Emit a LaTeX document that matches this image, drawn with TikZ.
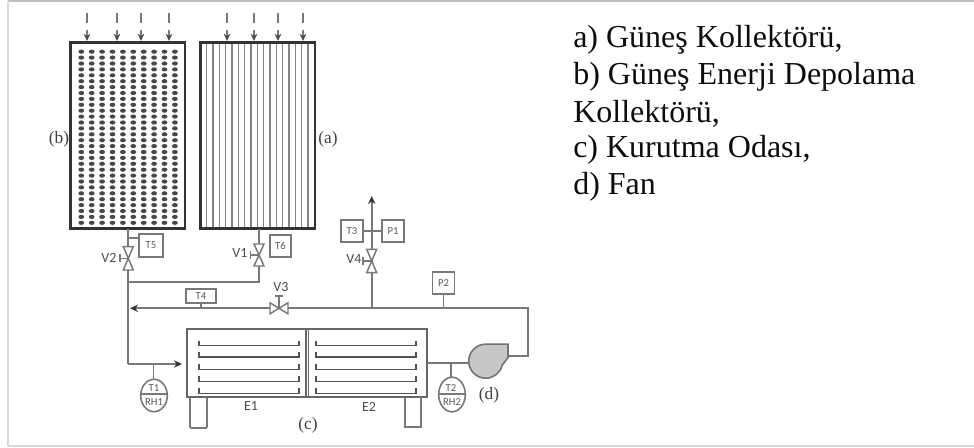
\documentclass[tikz,border=0pt]{standalone}
\usepackage{fontspec}
\setmainfont{Liberation Serif}
\newfontfamily\lblfont{Carlito}
\usetikzlibrary{arrows.meta}
\definecolor{pipe}{gray}{0.47}
\definecolor{panel}{gray}{0.2}
\tikzset{
  pipeline/.style={draw=pipe,line width=1.4pt},
  arrowline/.style={pipeline,-{Stealth[length=6pt,width=5.5pt,color=black!80]}},
  panelbox/.style={draw=panel,line width=2pt,fill=white},
  tagbox/.style={draw=pipe,line width=1.2pt,fill=white,inner sep=0pt,font=\lblfont\fontsize{8}{9}\selectfont,text=black!65},
  taglabel/.style={inner sep=0pt,font=\lblfont\fontsize{8}{9}\selectfont,text=black!65},
  vlabel/.style={inner sep=0pt,font=\lblfont\fontsize{10.5}{11}\selectfont,text=black!70},
  seriflabel/.style={inner sep=0pt,font=\fontsize{13}{15}\selectfont,text=black!75},
  legend/.style={inner sep=0pt,anchor=west,font=\fontsize{24}{28}\selectfont,text=black!95},
  sensor/.style={draw=pipe,line width=1.2pt,fill=white},
  valvetri/.style={draw=pipe,line width=1.1pt,fill=white},
  shelf/.style={draw=black!68,line width=1.2pt},
}
\begin{document}
\begin{tikzpicture}[x=0.75pt,y=-0.75pt]
\useasboundingbox (0,0) rectangle (974,448);
\draw[black!25,line width=1pt] (8,1) -- (974,1);
\draw[black!15,line width=1pt] (8,1) -- (8,446);
\draw[black!15,line width=1pt] (8,446) -- (974,446);

% panels
\draw[panelbox] (70.7,42.7) rectangle (185,228.7);
\draw[panelbox] (200.7,42.7) rectangle (315,228.7);
\foreach \c in {0,...,9}{
  \foreach \r in {0,...,29}{
    \fill[black!72] ({81.3+10.4*\c},{51.7+5.9*\r}) ellipse (2.9 and 2.1);
  }
}
\foreach \c in {0,...,16}{
  \draw[black!48,line width=1.1pt] ({206.7+6.33*\c},43.5) -- ({206.7+6.33*\c},228);
}
\draw[panel,line width=2pt] (70.7,42.7) rectangle (185,228.7);
\draw[panel,line width=2pt] (200.7,42.7) rectangle (315,228.7);
% sun arrows
\foreach \x in {87,117,141,169,227,254,278,303}{
  \draw[pipe,line width=1.3pt] (\x,13) -- (\x,23);
  \draw[pipe,line width=1.1pt,-{Stealth[length=5.5pt,width=5pt,color=black!70]}] (\x,30) -- (\x,41);
}
\node[seriflabel] (lb) at (59,139) {(b)};
\node[seriflabel] (la) at (328,139) {(a)};

% chamber
\draw[draw=black!60,line width=1.3pt,fill=white] (187,329) rectangle (426.7,397);
\draw[draw=black!60,line width=2pt] (187,397) -- (426.7,397);
\draw[black!60,line width=1pt] (306,329) -- (306,397) (308.5,329) -- (308.5,397);
\foreach \y in {345.7,357,369.5,381.5,393.5}{
  \draw[shelf] (199,\y-5) -- (199,\y) -- (299,\y) -- (299,\y-5);
  \draw[shelf] (315.7,\y-5) -- (315.7,\y) -- (416,\y) -- (416,\y-5);
}
\draw[pipe,line width=1.3pt,rounded corners=0.8pt] (190,397.5) -- (190,428) -- (207,428) -- (207,397.5);
\draw[pipe,line width=1.3pt] (405,397.5) -- (405,427) -- (421,427) -- (421,397.5);
\node[vlabel] (e1) at (251,406) {E1};
\node[vlabel] (e2) at (369,407) {E2};
\node[seriflabel] (lc) at (308,425) {(c)};

% pipes
\coordinate (pb) at (128.3,229);
\coordinate (pa) at (259,229);
\coordinate (jn) at (128.3,282);
\draw[pipeline] (pb) -- (128.3,364);
\draw[pipeline] (pa) -- (259,282) -- (jn);
\draw[arrowline] (128.3,364) -- (182,364);
\coordinate (cr) at (426.7,362.7);
\coordinate (fl) at (469,362.7);
\draw[pipeline] (cr) -- (fl);
\draw[pipeline] (506,355.7) -- (528,355.7) -- (528,308.3) -- (288,308.3);
\draw[arrowline] (270,308.3) -- (130,308.3);
\draw[arrowline] (371.7,308.3) -- (371.7,196);
\draw[pipe,line width=1.2pt] (341,231) -- (404,231);

% boxes
\node[tagbox,minimum width=18pt,minimum height=17pt] (t5) at (151,245.5) {T5};
\draw[pipe,line width=1.2pt] (128.3,238) -- (t5.west |- 0,238);
\node[tagbox,minimum width=16pt,minimum height=16.5pt] (t6) at (280.5,246) {T6};
\node[tagbox,minimum width=22.5pt,minimum height=10.5pt] (t4) at (201,296) {T4};
\draw[pipe,line width=1.2pt] (t4.south) -- (201,308.3);
\node[tagbox,minimum width=16.5pt,minimum height=16.5pt] (t3) at (352,231) {T3};
\node[tagbox,minimum width=16.5pt,minimum height=16.5pt] (p1) at (393,231) {P1};
\node[tagbox,minimum width=16.5pt,minimum height=16.5pt] (p2) at (443.5,283) {P2};
\draw[pipe,line width=1.2pt] (p2.south) -- (443.5,308.3);

% vertical valves
\foreach \cx/\cy/\h/\lx/\ly/\n in {128.3/258.3/11.7/109/258/V2,259/255/11/240/253/V1,371.7/261/11.7/354/259/V4}{
  \draw[pipe,line width=1.1pt] (\cx,\cy) -- (\cx-8.5,\cy);
  \draw[pipe,line width=1.1pt] (\cx-8.5,\cy-4.2) -- (\cx-8.5,\cy+4.2);
  \draw[valvetri] (\cx,\cy) -- (\cx-5,\cy-\h) -- (\cx+5,\cy-\h) -- cycle;
  \draw[valvetri] (\cx,\cy) -- (\cx-5,\cy+\h) -- (\cx+5,\cy+\h) -- cycle;
  \node[vlabel] at (\lx,\ly) {\n};
}
% V3
\draw[pipe,line width=1.1pt] (279,308.3) -- (279,296);
\draw[pipe,line width=1.1pt] (275,296) -- (283,296);
\draw[valvetri] (279,308.3) -- (270,302.8) -- (270,313.8) -- cycle;
\draw[valvetri] (279,308.3) -- (288,302.8) -- (288,313.8) -- cycle;
\node[vlabel] (v3) at (281,287) {V3};

% sensors
\draw[pipe,line width=1.2pt] (153.5,364) -- (153.5,379);
\draw[sensor] (154,395.5) ellipse (13.3 and 16.2);
\draw[pipe,line width=1.2pt] (140.8,394) -- (167.2,394);
\node[taglabel] (t1) at (154,388.5) {T1};
\node[taglabel] (rh1) at (154,402) {RH1};
\draw[pipe,line width=1.2pt] (451,362.7) -- (451,377);
\draw[sensor] (452,394.5) ellipse (13.3 and 17.3);
\draw[pipe,line width=1.2pt] (438.8,394) -- (465.2,394);
\node[taglabel] (t2) at (451,388.5) {T2};
\node[taglabel] (rh2) at (452,402) {RH2};

% fan
\draw[draw=black!55,fill=black!22,line width=1.2pt] (485.7,344.2)
  arc[start angle=-90,end angle=-346,radius=17] -- (508,357.5) -- (508,344.2) -- cycle;
\node[seriflabel] (ld) at (489,395) {(d)};

% legend
\node[legend] at (573,40) {a) Güneş Kollektörü,};
\node[legend] at (573,77) {b) Güneş Enerji Depolama};
\node[legend] at (573,113.5) {Kollektörü,};
\node[legend] at (573,150) {c) Kurutma Odası,};
\node[legend] at (573,187) {d) Fan};
\end{tikzpicture}
\end{document}
